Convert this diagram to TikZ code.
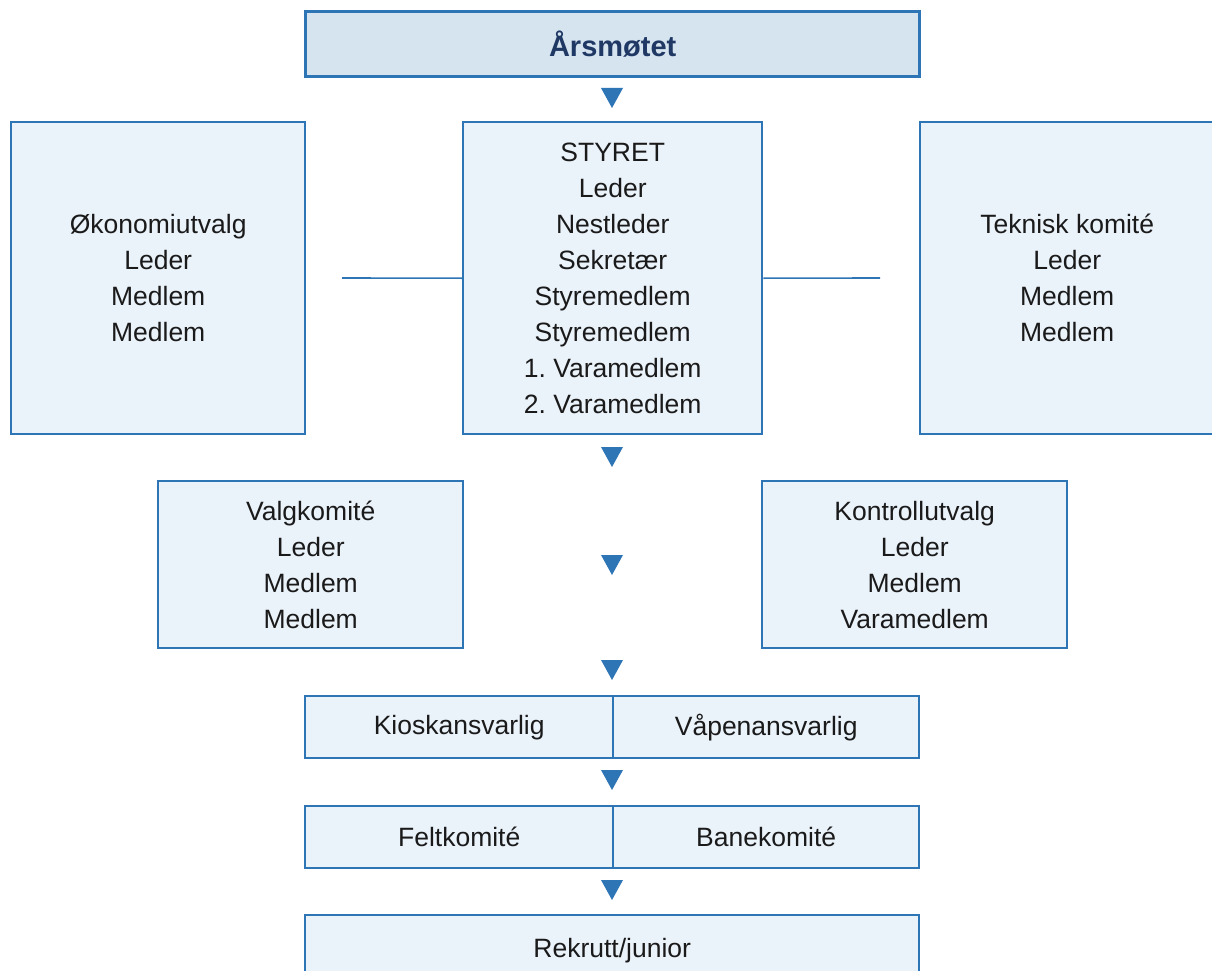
\documentclass[tikz,border=0pt]{standalone}
\usepackage{fontspec}
\setmainfont{Liberation Sans}
\definecolor{bblue}{HTML}{2E75B6}
\definecolor{bfill}{HTML}{EAF2FA}
\definecolor{hfill}{HTML}{D6E4F0}
\definecolor{txt}{HTML}{1A1A1A}
\definecolor{htxt}{HTML}{203864}
\begin{document}
\begin{tikzpicture}[x=1pt,y=-1pt,
  box/.style={draw=bblue, line width=2.4pt, fill=bfill, inner sep=0pt, align=center,
    font=\fontsize{26.5}{36}\selectfont, text=txt, anchor=north west},
  headbox/.style={box, line width=3.4pt, fill=hfill, text=htxt, font=\fontsize{29}{36}\selectfont\bfseries},
  link/.style={draw=bblue, line width=1.6pt},
  tri/.pic={\fill[bblue] (-11,-10) -- (11,-10) -- (0,10) -- cycle;}]
\clip (0,0) rectangle (1212,971);
\fill[white] (0,0) rectangle (1212,971);
% boxes
\node[headbox, minimum width=614pt, minimum height=65pt] (ars) at (304,10) {Årsmøtet};
\node[box, minimum width=294pt, minimum height=312pt] (oko) at (10,121) {Økonomiutvalg\\Leder\\Medlem\\Medlem};
\node[box, minimum width=299pt, minimum height=312pt] (sty) at (462,121) {STYRET\\Leder\\Nestleder\\Sekretær\\Styremedlem\\Styremedlem\\1.\ Varamedlem\\2.\ Varamedlem};
\node[box, minimum width=294pt, minimum height=312pt] (tek) at (919,121) {Teknisk komité\\Leder\\Medlem\\Medlem};
\node[box, minimum width=305pt, minimum height=167pt] (val) at (157,480) {Valgkomité\\Leder\\Medlem\\Medlem};
\node[box, minimum width=305pt, minimum height=167pt] (kon) at (761,480) {Kontrollutvalg\\Leder\\Medlem\\Varamedlem};
\node[box, minimum width=308pt, minimum height=62pt] (kio) at (304,695) {Kioskansvarlig};
\node[box, minimum width=306pt, minimum height=62pt] (vap) at (612,695) {Våpenansvarlig};
\node[box, minimum width=308pt, minimum height=62pt] (fel) at (304,805) {Feltkomité};
\node[box, minimum width=306pt, minimum height=62pt] (ban) at (612,805) {Banekomité};
\node[box, minimum width=614pt, minimum height=70pt] (rek) at (304,914) {Rekrutt/junior};
% side links
\coordinate (lend) at (342,278);
\coordinate (rend) at (880,278);
\draw[link] (sty.west) -- (lend);
\draw[link] (sty.east) -- (rend);
% triangles
\coordinate (t1) at (612,98);
\coordinate (t2) at (612,457);
\coordinate (t3) at (612,565);
\coordinate (t4) at (612,670);
\coordinate (t5) at (612,780);
\coordinate (t6) at (612,890);
\foreach \t in {t1,t2,t3,t4,t5,t6} {\pic at (\t) {tri};}
\end{tikzpicture}
\end{document}
